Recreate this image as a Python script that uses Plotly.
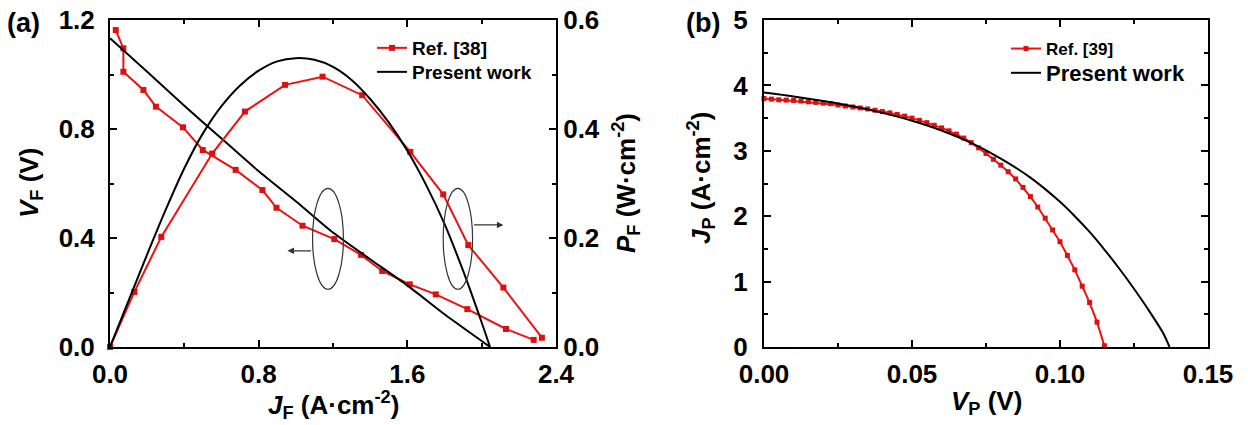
import plotly.graph_objects as go

# ---------------- Panel (a) data ----------------
ref38_V_J = [0.031, 0.072, 0.072, 0.18, 0.247, 0.393, 0.499, 0.676, 0.82, 0.896, 1.036,
             1.207, 1.351, 1.465, 1.613, 1.753, 1.923, 2.131, 2.28]
ref38_V = [1.163, 1.096, 1.010, 0.943, 0.882, 0.806, 0.723, 0.650, 0.576, 0.511, 0.445,
           0.396, 0.338, 0.279, 0.230, 0.193, 0.139, 0.066, 0.026]

ref38_P_J = [0.0, 0.131, 0.276, 0.55, 0.726, 0.942, 1.144, 1.357, 1.616, 1.793, 1.928, 2.117, 2.324]
ref38_P = [0.0, 0.101, 0.202, 0.355, 0.432, 0.481, 0.496, 0.462, 0.358, 0.280, 0.187, 0.109, 0.017]

present_V_J = [0.0, 0.2, 0.4, 0.6, 0.8, 1.0, 1.2, 1.4, 1.6, 1.8, 2.045]
present_V = [1.133, 1.01, 0.885, 0.765, 0.645, 0.535, 0.42, 0.322, 0.226, 0.12, 0.0]

present_P_J = [0.0, 0.1, 0.2, 0.3, 0.4, 0.5, 0.6, 0.7, 0.8, 0.9, 1.0, 1.1, 1.2, 1.3, 1.4,
               1.5, 1.6, 1.7, 1.8, 1.9, 2.0, 2.045]
present_P = [0.0, 0.085, 0.170, 0.252, 0.328, 0.392, 0.442, 0.480, 0.507, 0.524, 0.530,
             0.527, 0.514, 0.490, 0.455, 0.412, 0.360, 0.298, 0.226, 0.140, 0.045, 0.0]

# ---------------- Panel (b) data ----------------
ref39_V = [0.0, 0.0025, 0.005, 0.0075, 0.01, 0.0125, 0.015, 0.0175, 0.02, 0.0225, 0.025,
           0.0275, 0.03, 0.0325, 0.035, 0.0375, 0.04, 0.0425, 0.045, 0.0475, 0.05,
           0.0525, 0.055, 0.0575, 0.06, 0.0625, 0.065, 0.0675, 0.07, 0.0725, 0.075,
           0.0775, 0.08, 0.0825, 0.085, 0.0875, 0.09, 0.0925, 0.095, 0.0975, 0.1,
           0.1025, 0.105, 0.1075, 0.11, 0.1125, 0.115]
ref39_J = [3.80, 3.79, 3.78, 3.775, 3.77, 3.76, 3.75, 3.74, 3.73, 3.72, 3.70,
           3.685, 3.67, 3.655, 3.64, 3.62, 3.60, 3.58, 3.555, 3.53, 3.50,
           3.465, 3.43, 3.39, 3.35, 3.305, 3.255, 3.195, 3.125, 3.045, 2.96,
           2.87, 2.78, 2.68, 2.57, 2.44, 2.30, 2.14, 1.97, 1.79, 1.61,
           1.40, 1.18, 0.93, 0.68, 0.38, 0.02]

present_b_V = [0.0, 0.01, 0.02, 0.03, 0.04, 0.05, 0.06, 0.07, 0.08, 0.09, 0.10,
               0.105, 0.11, 0.115, 0.12, 0.125, 0.13, 0.135, 0.137]
present_b_J = [3.89, 3.83, 3.76, 3.68, 3.58, 3.46, 3.31, 3.12, 2.88, 2.59, 2.22,
               2.00, 1.76, 1.49, 1.20, 0.89, 0.56, 0.20, 0.0]

RED = "#f01010"
MRED = "#dd1010"
FONT = "Liberation Sans"
W, H = 1248, 425

fig = go.Figure()

fig.add_trace(go.Scatter(x=ref38_V_J, y=ref38_V, mode="lines+markers", name="Ref. [38]",
                         line=dict(color=RED, width=2), marker=dict(symbol="square", size=6, color=MRED),
                         xaxis="x", yaxis="y", legend="legend", cliponaxis=False))
fig.add_trace(go.Scatter(x=present_V_J, y=present_V, mode="lines", name="Present work",
                         line=dict(color="black", width=2, shape="spline", smoothing=0.6),
                         xaxis="x", yaxis="y", legend="legend3", cliponaxis=False))
fig.add_trace(go.Scatter(x=ref38_P_J, y=ref38_P, mode="lines+markers", showlegend=False,
                         line=dict(color=RED, width=2), marker=dict(symbol="square", size=6, color=MRED),
                         xaxis="x", yaxis="y2", cliponaxis=False))
fig.add_trace(go.Scatter(x=present_P_J, y=present_P, mode="lines", showlegend=False,
                         line=dict(color="black", width=2, shape="spline", smoothing=0.8),
                         xaxis="x", yaxis="y2", cliponaxis=False))

fig.add_trace(go.Scatter(x=ref39_V, y=ref39_J, mode="lines+markers", name="Ref. [39]",
                         line=dict(color=RED, width=2), marker=dict(symbol="square", size=5, color=MRED),
                         xaxis="x2", yaxis="y3", legend="legend2", cliponaxis=False))
fig.add_trace(go.Scatter(x=present_b_V, y=present_b_J, mode="lines", name="Present work",
                         line=dict(color="black", width=2, shape="spline", smoothing=0.8),
                         xaxis="x2", yaxis="y3", legend="legend4", cliponaxis=False))

tickfont = dict(family=FONT, size=26, color="black", weight="bold")
titlefont = dict(family=FONT, size=26, color="black", weight="bold")
minor_common = dict(ticks="inside", ticklen=4, tickwidth=1.5, tickcolor="black")
axcommon = dict(showline=True, linecolor="black", linewidth=2, ticks="inside", ticklen=7,
                tickwidth=2, tickcolor="black", showgrid=False, zeroline=False,
                tickfont=tickfont, automargin=False)

dom_a = [110 / W, 556 / W]
dom_b = [764 / W, 1208 / W]
dom_y = [(H - 347) / H, (H - 20) / H]


def leg(x, y, size):
    return dict(x=x / W, y=(H - y) / H, xanchor="left", yanchor="middle",
                bgcolor="rgba(0,0,0,0)", itemwidth=30, tracegroupgap=0,
                font=dict(family=FONT, size=size, color="black", weight="bold"))


fig.update_layout(
    width=W, height=H, margin=dict(l=0, r=0, t=0, b=0, autoexpand=False),
    paper_bgcolor="white", plot_bgcolor="white",
    xaxis=dict(domain=dom_a, range=[0, 2.4], dtick=0.8, tick0=0, tickformat=".1f",
               mirror="ticks", anchor="y", ticklabelstandoff=3,
               minor=dict(dtick=0.4, **minor_common), **axcommon),
    yaxis=dict(domain=dom_y, range=[0, 1.2], dtick=0.4, tick0=0, tickformat=".1f", anchor="x",
               ticklabelstandoff=8,
               minor=dict(dtick=0.2, **minor_common), **axcommon),
    yaxis2=dict(domain=dom_y, range=[0, 0.6], dtick=0.2, tick0=0, tickformat=".1f",
                overlaying="y", side="right", anchor="x", ticklabelstandoff=0,
                minor=dict(dtick=0.1, **minor_common), **axcommon),
    xaxis2=dict(domain=dom_b, range=[0, 0.15], dtick=0.05, tick0=0, tickformat=".2f",
                mirror="ticks", anchor="y3", ticklabelstandoff=3,
                minor=dict(dtick=0.025, **minor_common), **axcommon),
    yaxis3=dict(domain=dom_y, range=[0, 5], dtick=1, tick0=0, anchor="x2", mirror="ticks",
                ticklabelstandoff=9,
                minor=dict(dtick=0.5, **minor_common), **axcommon),
    legend=leg(372, 48, 19),
    legend3=leg(372, 72, 19),
    legend2=leg(1006, 49, 17),
    legend4=leg(1006, 73, 22),
)

# axis titles as annotations
def title(text, x, y, angle=0):
    fig.add_annotation(x=x / W, y=(H - y) / H, xref="paper", yref="paper", text=text,
                       showarrow=False, xanchor="center", yanchor="middle", textangle=angle,
                       font=titlefont)

title("<i>V</i><sub>F</sub> (V)", 31, 183, -90)
title("<i>P</i><sub>F</sub> (W·cm<sup>-2</sup>)", 626, 183, -90)
title("<i>J</i><sub>F</sub> (A·cm<sup>-2</sup>)", 333, 405)
title("<i>J</i><sub>P</sub> (A·cm<sup>-2</sup>)", 701, 178, -90)
title("<i>V</i><sub>P</sub> (V)", 986, 402)

# ellipses and arrows (panel a)
ell1 = dict(cx=1.173, cy=0.397, rx=0.083, ry=0.185)
ell2 = dict(cx=1.872, cy=0.397, rx=0.079, ry=0.185)
for e in (ell1, ell2):
    fig.add_shape(type="circle", xref="x", yref="y", x0=e["cx"] - e["rx"], x1=e["cx"] + e["rx"],
                  y0=e["cy"] - e["ry"], y1=e["cy"] + e["ry"], line=dict(color="#333333", width=1.2))
fig.add_annotation(x=0.955, y=0.353, ax=1.09, ay=0.353, xref="x", yref="y", axref="x", ayref="y",
                   text="", showarrow=True, arrowhead=2, arrowsize=1, arrowwidth=1.3, arrowcolor="#333333")
fig.add_annotation(x=2.117, y=0.448, ax=1.951, ay=0.448, xref="x", yref="y", axref="x", ayref="y",
                   text="", showarrow=True, arrowhead=2, arrowsize=1, arrowwidth=1.3, arrowcolor="#333333")

panel_font = dict(family=FONT, size=27, color="black", weight="bold")
fig.add_annotation(x=5 / W, y=(H - 23) / H, xref="paper", yref="paper", text="(a)",
                   showarrow=False, xanchor="left", yanchor="middle", font=panel_font)
fig.add_annotation(x=684 / W, y=(H - 23) / H, xref="paper", yref="paper", text="(b)",
                   showarrow=False, xanchor="left", yanchor="middle", font=panel_font)

fig.write_html("out.html")
